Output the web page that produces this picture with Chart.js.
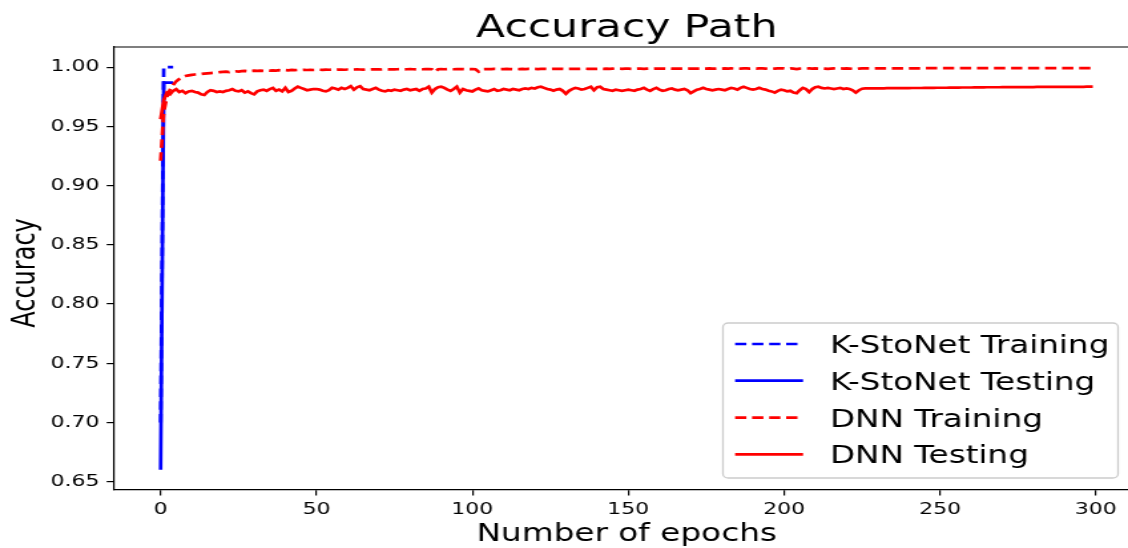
<!DOCTYPE html>
<html>
<head>
  <title>Accuracy Path</title>
  <script src="https://cdn.jsdelivr.net/npm/chart.js"></script>
  <style>
    html, body { margin: 0; padding: 0; background: #fff; overflow: hidden; }
    canvas { display: block; }
  </style>
</head>
<body>
  <!-- drawn narrow and stretched sideways, like the source figure -->
  <canvas id="chart" width="848" height="548" style="width:1128px;height:548px"></canvas>

  <script>
    const xTicks = [0, 50, 100, 150, 200, 250, 300];
    const yTicks = [0.65, 0.70, 0.75, 0.80, 0.85, 0.90, 0.95, 1.00];
    const yTickLabels = ['0.65', '0.70', '0.75', '0.80', '0.85', '0.90', '0.95', '1.00'];

    const kTrain = [0.700, 1.000, 1.000, 1.000, 1.000];
    const kTest = [0.660, 0.987, 0.987, 0.987, 0.987];

    const dnnTrain = [
      0.9210, 0.9620, 0.9750, 0.9810, 0.9850, 0.9880, 0.9900, 0.9915, 0.9925, 0.9930,
      0.9935, 0.9938, 0.9940, 0.9942, 0.9945, 0.9948, 0.9950, 0.9952, 0.9955, 0.9958,
      0.9960, 0.9962, 0.9958, 0.9963, 0.9965, 0.9962, 0.9966, 0.9968, 0.9965, 0.9968,
      0.9970, 0.9968, 0.9971, 0.9969, 0.9972, 0.9970, 0.9973, 0.9971, 0.9974, 0.9972,
      0.9975, 0.9973, 0.9976, 0.9974, 0.9976, 0.9975, 0.9977, 0.9976, 0.9978, 0.9976,
      0.9977, 0.9978, 0.9977, 0.9979, 0.9978, 0.9979, 0.9978, 0.9980, 0.9979, 0.9978,
      0.9980, 0.9979, 0.9980, 0.9981, 0.9980, 0.9979, 0.9981, 0.9980, 0.9981, 0.9982,
      0.9981, 0.9980, 0.9982, 0.9981, 0.9982, 0.9981, 0.9982, 0.9983, 0.9981, 0.9982,
      0.9983, 0.9982, 0.9981, 0.9983, 0.9982, 0.9984, 0.9983, 0.9982, 0.9960, 0.9982,
      0.9983, 0.9982, 0.9984, 0.9983, 0.9982, 0.9984, 0.9983, 0.9984, 0.9983, 0.9984,
      0.9983, 0.9982, 0.9962, 0.9983, 0.9984, 0.9983, 0.9984, 0.9985, 0.9984, 0.9983,
      0.9984, 0.9985, 0.9984, 0.9983, 0.9985, 0.9984, 0.9985, 0.9984, 0.9985, 0.9984,
      0.9985, 0.9984, 0.9985, 0.9986, 0.9985, 0.9984, 0.9985, 0.9986, 0.9985, 0.9986,
      0.9985, 0.9986, 0.9985, 0.9986, 0.9985, 0.9986, 0.9987, 0.9986, 0.9985, 0.9986,
      0.9986, 0.9987, 0.9986, 0.9987, 0.9986, 0.9987, 0.9986, 0.9987, 0.9986, 0.9987,
      0.9987, 0.9986, 0.9987, 0.9988, 0.9987, 0.9986, 0.9987, 0.9988, 0.9987, 0.9988,
      0.9987, 0.9988, 0.9987, 0.9988, 0.9987, 0.9988, 0.9987, 0.9988, 0.9988, 0.9987,
      0.9988, 0.9987, 0.9988, 0.9988, 0.9987, 0.9988, 0.9989, 0.9988, 0.9988, 0.9989,
      0.9988, 0.9989, 0.9988, 0.9989, 0.9988, 0.9989, 0.9988, 0.9989, 0.9989, 0.9988,
      0.9989, 0.9988, 0.9989, 0.9989, 0.9988, 0.9989, 0.9989, 0.9988, 0.9989, 0.9989,
      0.9989, 0.9986, 0.9989, 0.9988, 0.9984, 0.9988, 0.9989, 0.9988, 0.9989, 0.9988,
      0.9989, 0.9988, 0.9989, 0.9988, 0.9986, 0.9988, 0.9989, 0.9988, 0.9989, 0.9988,
      0.9989, 0.9988, 0.9986, 0.9984, 0.9988, 0.9989, 0.9990, 0.9990, 0.9990, 0.9990,
      0.9990, 0.9990, 0.9990, 0.9990, 0.9990, 0.9990, 0.9990, 0.9990, 0.9990, 0.9990,
      0.9990, 0.9990, 0.9990, 0.9990, 0.9990, 0.9991, 0.9991, 0.9991, 0.9991, 0.9991,
      0.9991, 0.9991, 0.9991, 0.9991, 0.9991, 0.9991, 0.9991, 0.9991, 0.9991, 0.9991,
      0.9991, 0.9991, 0.9991, 0.9991, 0.9991, 0.9992, 0.9992, 0.9992, 0.9992, 0.9992,
      0.9992, 0.9992, 0.9992, 0.9992, 0.9992, 0.9992, 0.9992, 0.9992, 0.9992, 0.9992,
      0.9992, 0.9992, 0.9992, 0.9992, 0.9992, 0.9992, 0.9992, 0.9992, 0.9992, 0.9992,
      0.9992, 0.9992, 0.9992, 0.9992, 0.9992, 0.9992, 0.9992, 0.9992, 0.9992, 0.9992
    ];

    const dnnTest = [
      0.9560, 0.9720, 0.9785, 0.9770, 0.9800, 0.9815, 0.9790, 0.9800, 0.9780, 0.9795,
      0.9800, 0.9790, 0.9785, 0.9770, 0.9765, 0.9790, 0.9805, 0.9800, 0.9790, 0.9795,
      0.9790, 0.9800, 0.9805, 0.9815, 0.9800, 0.9795, 0.9805, 0.9785, 0.9795, 0.9780,
      0.9770, 0.9795, 0.9805, 0.9810, 0.9800, 0.9815, 0.9825, 0.9800, 0.9810, 0.9795,
      0.9825, 0.9790, 0.9800, 0.9820, 0.9835, 0.9825, 0.9815, 0.9805, 0.9810, 0.9815,
      0.9815, 0.9810, 0.9800, 0.9795, 0.9805, 0.9825, 0.9820, 0.9810, 0.9825, 0.9815,
      0.9825, 0.9840, 0.9810, 0.9830, 0.9840, 0.9815, 0.9810, 0.9805, 0.9815, 0.9825,
      0.9810, 0.9800, 0.9795, 0.9805, 0.9800, 0.9810, 0.9805, 0.9800, 0.9810, 0.9815,
      0.9805, 0.9810, 0.9815, 0.9800, 0.9815, 0.9820, 0.9835, 0.9785, 0.9815, 0.9830,
      0.9835, 0.9825, 0.9810, 0.9800, 0.9815, 0.9835, 0.9785, 0.9815, 0.9805, 0.9800,
      0.9795, 0.9810, 0.9820, 0.9805, 0.9800, 0.9795, 0.9805, 0.9815, 0.9800, 0.9805,
      0.9815, 0.9810, 0.9805, 0.9815, 0.9810, 0.9805, 0.9815, 0.9820, 0.9815, 0.9825,
      0.9820, 0.9830, 0.9835, 0.9825, 0.9815, 0.9810, 0.9800, 0.9810, 0.9815, 0.9800,
      0.9775, 0.9800, 0.9815, 0.9825, 0.9820, 0.9810, 0.9815, 0.9825, 0.9835, 0.9805,
      0.9830, 0.9835, 0.9815, 0.9810, 0.9805, 0.9800, 0.9810, 0.9805, 0.9800, 0.9805,
      0.9810, 0.9805, 0.9800, 0.9810, 0.9815, 0.9825, 0.9810, 0.9800, 0.9815, 0.9825,
      0.9810, 0.9800, 0.9805, 0.9815, 0.9820, 0.9810, 0.9805, 0.9810, 0.9815, 0.9805,
      0.9780, 0.9795, 0.9810, 0.9815, 0.9825, 0.9815, 0.9810, 0.9805, 0.9810, 0.9815,
      0.9810, 0.9805, 0.9815, 0.9825, 0.9820, 0.9810, 0.9825, 0.9835, 0.9825, 0.9815,
      0.9810, 0.9815, 0.9825, 0.9815, 0.9810, 0.9800, 0.9795, 0.9785, 0.9800, 0.9810,
      0.9805, 0.9795, 0.9800, 0.9785, 0.9780, 0.9805, 0.9825, 0.9815, 0.9790, 0.9815,
      0.9830, 0.9835, 0.9825, 0.9820, 0.9825, 0.9820, 0.9815, 0.9820, 0.9825, 0.9815,
      0.9820, 0.9815, 0.9805, 0.9785, 0.9805, 0.9818, 0.9820, 0.9820, 0.9820, 0.9821,
      0.9821, 0.9821, 0.9821, 0.9822, 0.9822, 0.9822, 0.9822, 0.9823, 0.9823, 0.9823,
      0.9823, 0.9824, 0.9824, 0.9824, 0.9824, 0.9825, 0.9825, 0.9825, 0.9825, 0.9826,
      0.9826, 0.9826, 0.9826, 0.9827, 0.9827, 0.9827, 0.9827, 0.9828, 0.9828, 0.9828,
      0.9828, 0.9829, 0.9829, 0.9829, 0.9829, 0.9830, 0.9830, 0.9830, 0.9830, 0.9830,
      0.9831, 0.9831, 0.9831, 0.9831, 0.9831, 0.9832, 0.9832, 0.9832, 0.9832, 0.9832,
      0.9832, 0.9833, 0.9833, 0.9833, 0.9833, 0.9833, 0.9833, 0.9833, 0.9834, 0.9834,
      0.9834, 0.9834, 0.9834, 0.9834, 0.9834, 0.9834, 0.9834, 0.9835, 0.9835, 0.9835
    ];

    const FONT = 'DejaVu Sans';
    Chart.defaults.font.family = FONT;
    Chart.defaults.color = '#000';

    const epochs = dnnTest.map((_, i) => i);

    function series(label, data, color, dashed, order) {
      return {
        label, data, order,
        borderColor: color,
        backgroundColor: color,
        borderWidth: 2.7,
        borderDash: dashed ? [8.5, 4.3] : [],
        pointRadius: 0,
        tension: 0,
        fill: false
      };
    }

    // title, axis labels, top spine and the boxed legend inside the plot
    const decor = {
      id: 'decor',
      afterDraw(chart) {
        const c = chart.ctx;
        const area = chart.chartArea;
        const xs = chart.scales.x;
        const mid = xs.getPixelForValue(149.5);
        c.save();

        c.strokeStyle = '#000';
        c.lineWidth = 1.2;
        c.beginPath();
        c.moveTo(area.left, area.top);
        c.lineTo(area.right, area.top);
        c.stroke();

        c.fillStyle = '#000';
        c.textAlign = 'center';
        c.textBaseline = 'alphabetic';
        c.font = `32px "${FONT}"`;
        c.fillText('Accuracy Path', mid, 37);
        c.font = `24.6px "${FONT}"`;
        c.fillText('Number of epochs', mid, 541);

        c.save();
        c.translate(25.5, 273);
        c.rotate(-Math.PI / 2);
        c.font = `24px "${FONT}"`;
        c.fillText('Accuracy', 0, 0);
        c.restore();

        // legend
        const bx = 543.5, by = 323, bw = 297, bh = 155;
        c.beginPath();
        c.roundRect(bx, by, bw, bh, 4);
        c.fillStyle = 'rgba(255,255,255,0.8)';
        c.fill();
        c.strokeStyle = '#cccccc';
        c.lineWidth = 1.3;
        c.stroke();

        const rows = [344, 380.7, 417.7, 454.3];
        c.textAlign = 'left';
        c.font = `24.5px "${FONT}"`;
        chart.data.datasets.forEach((ds, i) => {
          const y = rows[i];
          c.strokeStyle = ds.borderColor;
          c.lineWidth = ds.borderWidth;
          c.setLineDash(ds.borderDash);
          c.beginPath();
          c.moveTo(552.6, y);
          c.lineTo(603.7, y);
          c.stroke();
          c.setLineDash([]);
          c.fillStyle = '#000';
          c.fillText(ds.label, 624, y + 9);
        });
        c.restore();
      }
    };

    new Chart(document.getElementById('chart'), {
      type: 'line',
      data: {
        labels: epochs,
        datasets: [
          series('K-StoNet Training', kTrain, '#0000ff', true, 3),
          series('K-StoNet Testing', kTest, '#0000ff', false, 2),
          series('DNN Training', dnnTrain, '#ff0000', true, 1),
          series('DNN Testing', dnnTest, '#ff0000', false, 0)
        ]
      },
      options: {
        responsive: false,
        animation: false,
        layout: { padding: { top: 47, left: 0, right: 0, bottom: 0 } },
        plugins: {
          legend: { display: false },
          title: { display: false },
          tooltip: { enabled: false }
        },
        scales: {
          x: {
            type: 'linear',
            min: -14.95,
            max: 310.3,
            afterBuildTicks: s => { s.ticks = xTicks.map(v => ({ value: v })); },
            afterFit: s => { s.height = 58; },
            grid: { drawOnChartArea: false, drawTicks: true, tickLength: 5.5, color: '#000', lineWidth: 1.2 },
            border: { display: true, color: '#000', width: 1.2 },
            ticks: { font: { size: 16.5 }, color: '#000', padding: 4, maxRotation: 0, autoSkip: false }
          },
          y: {
            type: 'linear',
            min: 0.643,
            max: 1.017,
            afterBuildTicks: s => { s.ticks = yTicks.map(v => ({ value: v })); },
            afterFit: s => { s.width = 85.7; },
            grid: { drawOnChartArea: false, drawTicks: true, tickLength: 5.5, color: '#000', lineWidth: 1.2 },
            border: { display: true, color: '#000', width: 1.2 },
            ticks: {
              font: { size: 16.5 }, color: '#000', padding: 5.5, autoSkip: false,
              callback: (v, i) => yTickLabels[i]
            }
          }
        }
      },
      plugins: [decor]
    });
  </script>
</body>
</html>
